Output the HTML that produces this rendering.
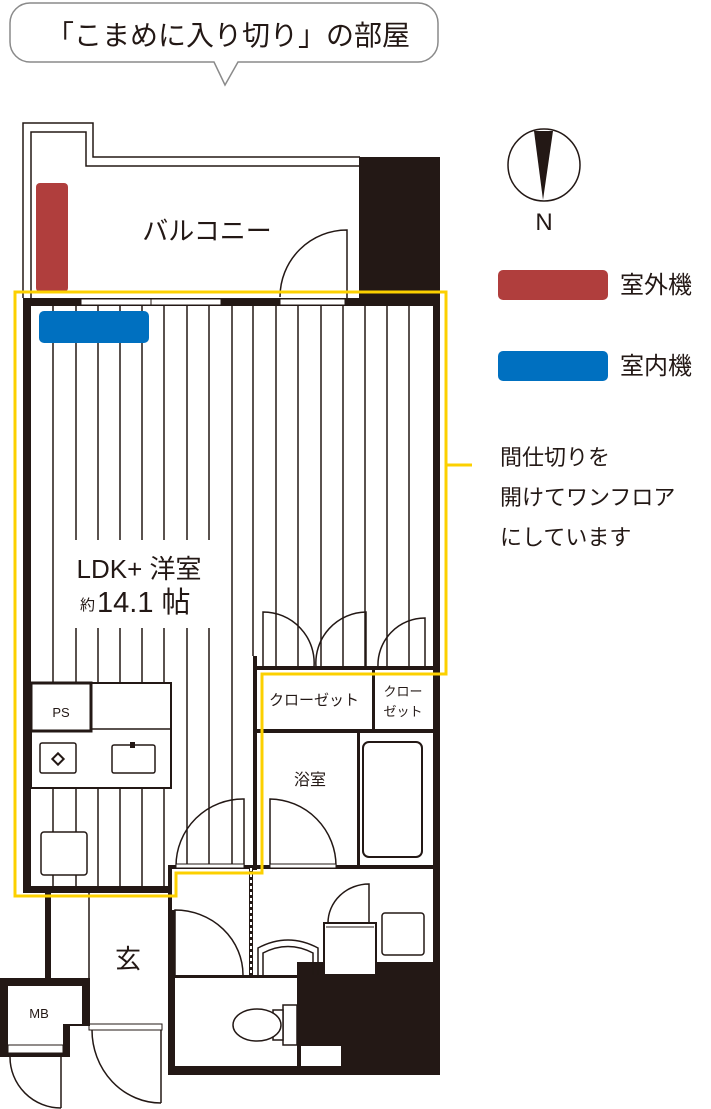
<!DOCTYPE html>
<html><head><meta charset="utf-8"><style>
html,body{margin:0;padding:0;background:#fff}
svg{display:block}
text{font-family:"Liberation Sans","Noto Sans CJK JP",sans-serif;fill:#231815}
</style></head><body>
<svg width="711" height="1109" viewBox="0 0 711 1109" xmlns="http://www.w3.org/2000/svg">
<!-- bubble -->
<path d="M30,3 H418 A20,20 0 0 1 438,23 V42 A20,20 0 0 1 418,62 H238 L225,85 L214,62 H30 A20,20 0 0 1 10,42 V23 A20,20 0 0 1 30,3 Z" fill="#fff" stroke="#8a8a8a" stroke-width="1.5"/>
<text x="228" y="45" font-size="28" text-anchor="middle">「こまめに入り切り」の部屋</text>

<!-- balcony -->
<g fill="none" stroke="#231815" stroke-width="1.5">
<path d="M23,298 V123 H93 V157 H360"/>
<path d="M31,298 V132 H86 V166 H360"/>
</g>
<rect x="359" y="157" width="81" height="143" fill="#231815"/>
<rect x="36" y="183" width="32" height="109" rx="4" fill="#b03e3d"/>
<text x="207" y="240" font-size="26" text-anchor="middle">バルコニー</text>
<path d="M347,298 V230 A67,67 0 0 0 280,297" fill="none" stroke="#231815" stroke-width="1.5"/>

<!-- stripes -->
<g stroke="#231815" stroke-width="1.5">
<line x1="53" y1="306" x2="53" y2="887"/><line x1="76" y1="306" x2="76" y2="887"/>
<line x1="98" y1="306" x2="98" y2="887"/><line x1="120" y1="306" x2="120" y2="887"/>
<line x1="142" y1="306" x2="142" y2="887"/><line x1="164" y1="306" x2="164" y2="887"/>
<line x1="187" y1="306" x2="187" y2="866"/><line x1="209" y1="306" x2="209" y2="866"/>
<line x1="232" y1="306" x2="232" y2="866"/>
<line x1="253" y1="306" x2="253" y2="656"/><line x1="276" y1="306" x2="276" y2="667"/>
<line x1="298" y1="306" x2="298" y2="667"/><line x1="321" y1="306" x2="321" y2="667"/>
<line x1="343" y1="306" x2="343" y2="667"/><line x1="365" y1="306" x2="365" y2="667"/>
<line x1="387" y1="306" x2="387" y2="667"/><line x1="409" y1="306" x2="409" y2="667"/>
</g>
<!-- label box -->
<rect x="62" y="540" width="153" height="88" fill="#fff"/>
<text x="139" y="578" font-size="26" text-anchor="middle">LDK+ 洋室</text>
<text x="80" y="610" font-size="15">約</text>
<text x="97" y="612" font-size="29">14.1 帖</text>

<!-- walls -->
<rect x="23" y="298" width="417" height="8" fill="#231815"/>
<rect x="81" y="299" width="140" height="6" fill="#fff" stroke="#231815" stroke-width="1"/>
<line x1="151" y1="299" x2="151" y2="305" stroke="#231815"/>
<rect x="280" y="299" width="65" height="6" fill="#fff" stroke="#231815" stroke-width="1"/>
<rect x="23" y="298" width="8" height="595" fill="#231815"/>
<rect x="433" y="298" width="7" height="777" fill="#231815"/>
<rect x="39" y="311" width="110" height="32" rx="5" fill="#0070c0"/>

<!-- closets -->
<rect x="253" y="656" width="4" height="214" fill="#231815"/>
<g fill="none" stroke="#231815" stroke-width="1.5">
<path d="M263,667 V612 A51,51 0 0 1 314,667"/>
<path d="M366,667 V612 A51,51 0 0 0 316,667"/>
<path d="M425,667 V618 A47,47 0 0 0 378,667"/>
</g>
<rect x="253" y="666" width="180" height="4" fill="#231815"/>
<rect x="253" y="729" width="180" height="4" fill="#231815"/>
<rect x="372" y="668" width="3" height="63" fill="#231815"/>
<text x="314" y="705" font-size="15" text-anchor="middle">クローゼット</text>
<text x="403" y="696" font-size="13" text-anchor="middle">クロー</text>
<text x="403" y="716" font-size="13" text-anchor="middle">ゼット</text>

<!-- bath -->
<rect x="357" y="731" width="3" height="137" fill="#231815"/>
<rect x="363" y="742" width="59" height="115" rx="6" fill="none" stroke="#231815" stroke-width="2"/>
<text x="310" y="785" font-size="16" text-anchor="middle">浴室</text>
<path d="M270,866 V799 A67,67 0 0 1 336,866" fill="none" stroke="#231815" stroke-width="1.5"/>
<rect x="256" y="865" width="177" height="4" fill="#231815"/>
<rect x="270" y="864" width="66" height="4" fill="#fff" stroke="#231815" stroke-width="1"/>

<!-- kitchen -->
<rect x="31" y="683" width="140" height="105" fill="#fff" stroke="#231815" stroke-width="2"/>
<rect x="31" y="683" width="60" height="48" fill="#fff" stroke="#231815" stroke-width="3"/>
<line x1="91" y1="729" x2="171" y2="729" stroke="#231815" stroke-width="1.5"/>
<text x="61" y="717" font-size="13" text-anchor="middle">PS</text>
<rect x="40" y="743" width="36" height="30" rx="2" fill="none" stroke="#231815" stroke-width="1.5"/>
<rect x="54" y="755" width="8" height="8" fill="none" stroke="#231815" stroke-width="2" transform="rotate(45 58 759)"/>
<rect x="112" y="745" width="43" height="28" rx="2" fill="none" stroke="#231815" stroke-width="1.5"/>
<rect x="130" y="742" width="5" height="6" fill="#231815"/>
<rect x="41" y="832" width="46" height="43" rx="3" fill="#fff" stroke="#231815" stroke-width="1.5"/>

<!-- LDK door -->
<path d="M244,866 V799 A67,67 0 0 0 176,866" fill="none" stroke="#231815" stroke-width="1.5"/>
<rect x="168" y="865" width="85" height="4" fill="#231815"/>
<rect x="176" y="864" width="68" height="4" fill="#fff" stroke="#231815" stroke-width="1"/>
<rect x="23" y="886" width="147" height="7" fill="#231815"/>

<!-- dotted wall -->
<rect x="249" y="866" width="4" height="110" fill="#231815"/>
<line x1="251" y1="868" x2="251" y2="975" stroke="#fff" stroke-width="2" stroke-dasharray="3,3"/>

<!-- entrance -->
<rect x="45" y="893" width="6" height="86" fill="#231815"/>
<line x1="89" y1="890" x2="89" y2="1026" stroke="#231815" stroke-width="1.5"/>
<rect x="168" y="866" width="4" height="160" fill="#231815"/>
<text x="128" y="968" font-size="26" text-anchor="middle">玄</text>
<rect x="89" y="1024" width="73" height="6" fill="#fff" stroke="#231815" stroke-width="1"/>
<path d="M161,1103 V1030 M92,1030 A69,73 0 0 0 161,1103" fill="none" stroke="#231815" stroke-width="1.5"/>

<!-- MB -->
<path d="M0,978 H90 V1026 H70 V1057 H0 Z" fill="#231815"/>
<path d="M8,986 H82 V1024 H63 V1045 H8 Z" fill="#fff"/>
<rect x="8" y="1045" width="55" height="8" fill="#fff" stroke="#231815" stroke-width="1"/>
<text x="39" y="1018" font-size="13" text-anchor="middle">MB</text>
<path d="M61,1057 V1108 M10,1057 A51,51 0 0 0 61,1108" fill="none" stroke="#231815" stroke-width="1.5"/>

<!-- hallway door -->
<path d="M175,975 V910 A68,65 0 0 1 243,975" fill="none" stroke="#231815" stroke-width="1.5"/>
<rect x="172" y="910" width="3" height="66" fill="#231815"/>

<!-- toilet room -->
<rect x="168" y="975" width="272" height="100" fill="#231815"/>
<rect x="297" y="962" width="136" height="14" fill="#231815"/>
<rect x="175" y="978" width="122" height="88" fill="#fff"/>
<rect x="301" y="1046" width="40" height="20" fill="#fff"/>
<rect x="283" y="1005" width="14" height="40" fill="#fff" stroke="#231815" stroke-width="1.5"/>
<rect x="273" y="1010" width="10" height="30" fill="#fff" stroke="#231815" stroke-width="1.5"/>
<ellipse cx="257" cy="1025" rx="24" ry="16" fill="#fff" stroke="#231815" stroke-width="1.5"/>

<!-- washroom -->
<path d="M258,975 V948 Q288,932 318,948 V975" fill="none" stroke="#231815" stroke-width="1.5"/>
<path d="M263,975 V953 Q288,940 313,953 V975" fill="none" stroke="#231815" stroke-width="1.5"/>
<path d="M369,923 V884 A41,39 0 0 0 328,923" fill="none" stroke="#231815" stroke-width="1.5"/>
<rect x="324" y="923" width="52" height="52" fill="#fff" stroke="#231815" stroke-width="2"/>
<line x1="326" y1="927" x2="374" y2="927" stroke="#231815"/>
<rect x="382" y="913" width="42" height="42" rx="3" fill="none" stroke="#231815" stroke-width="1.5"/>

<!-- yellow outline -->
<path d="M15,292 H446 V674 H262 V873 H176 V896 H15 Z" fill="none" stroke="#fcd000" stroke-width="3"/>
<line x1="446" y1="465" x2="472" y2="465" stroke="#fcd000" stroke-width="3"/>

<!-- compass -->
<circle cx="544" cy="165" r="36" fill="#fff" stroke="#231815" stroke-width="1.5"/>
<path d="M534,131 L553,131 L543,200 Z" fill="#231815"/>
<text x="544" y="230" font-size="24" text-anchor="middle">N</text>

<!-- legend -->
<rect x="498" y="270" width="110" height="30" rx="5" fill="#b03e3d"/>
<text x="620" y="293" font-size="24">室外機</text>
<rect x="498" y="351" width="110" height="30" rx="5" fill="#0070c0"/>
<text x="620" y="374" font-size="24">室内機</text>
<text x="500" y="465" font-size="22">間仕切りを</text>
<text x="500" y="505" font-size="22">開けてワンフロア</text>
<text x="500" y="545" font-size="22">にしています</text>
</svg>
</body></html>
